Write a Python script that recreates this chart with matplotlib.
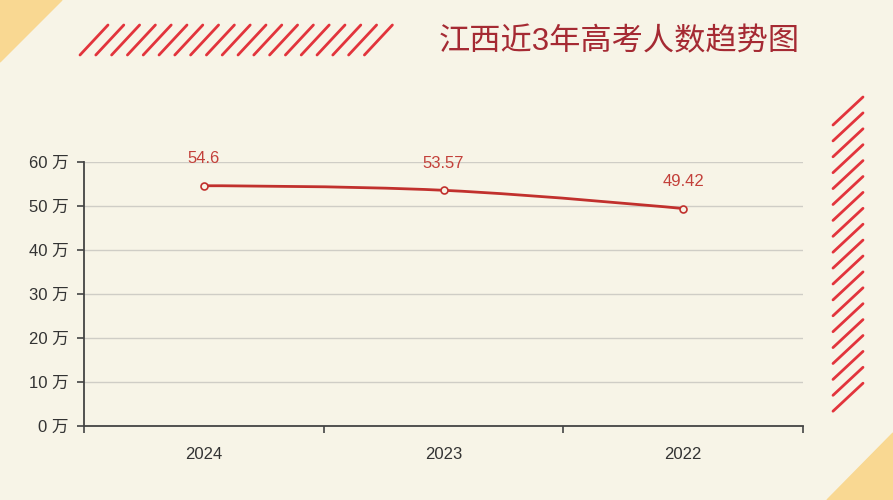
#!/usr/bin/env python3

import numpy as np
import matplotlib
matplotlib.use("Agg")
import matplotlib.pyplot as plt
from matplotlib.path import Path
from matplotlib.patches import PathPatch, Polygon
from matplotlib.lines import Line2D

plt.rcParams['font.family'] = ['Liberation Sans', 'Noto Sans CJK SC', 'DejaVu Sans']

# data
years = ['2024', '2023', '2022']
examinees = [54.6, 53.57, 49.42]   # 万人
y_ticks = [0, 10, 20, 30, 40, 50, 60]
y_labels = [f'{v} 万' for v in y_ticks]
title = '江西近3年高考人数趋势图'

BG = '#f7f4e7'
RED = '#e2343c'
LINE = '#c1302d'
LABEL = '#c3403a'
YELLOW = '#f9d892'
W, H = 893, 500


def px(x, y):
    """pixel (top-left origin) -> figure fraction"""
    return x / W, 1 - y / H


fig = plt.figure(figsize=(W / 100, H / 100), dpi=100, facecolor=BG)

# corner triangles
fig.patches.append(Polygon([px(0, 0), px(62, 0), px(0, 62)], closed=True,
                           transform=fig.transFigure, color=YELLOW, zorder=0))
fig.patches.append(Polygon([px(827, 500), px(893, 433), px(893, 500)], closed=True,
                           transform=fig.transFigure, color=YELLOW, zorder=0))

# hatch strips
for i in range(19):
    x0 = 80 + i * 15.8
    a, b = px(x0, 55), px(x0 + 28, 25)
    fig.lines.append(Line2D([a[0], b[0]], [a[1], b[1]], transform=fig.transFigure,
                            color=RED, lw=2.0, solid_capstyle='round'))
for i in range(19):
    y0 = 97 + i * 15.9
    a, b = px(833, y0 + 28), px(863, y0)
    fig.lines.append(Line2D([a[0], b[0]], [a[1], b[1]], transform=fig.transFigure,
                            color=RED, lw=2.0, solid_capstyle='round'))

fig.text(619 / W, 1 - 42 / H, title, ha='center', va='center',
         fontsize=22.5, color='#a52a33')

ax = fig.add_axes([84 / W, 74 / H, 719 / W, 264 / H])
ax.set_facecolor('none')

x = np.arange(len(years))
y = np.array(examinees)

# smooth curve through the points (bezier, echarts-like: end control = end point)
s = 0.4
pts = list(zip(x, y))
n = len(pts)
verts = [pts[0]]
codes = [Path.MOVETO]
for i in range(n - 1):
    p0, p1 = pts[i], pts[i + 1]
    if i > 0:
        pm = pts[i - 1]
        c1 = (p0[0] + s * (p1[0] - pm[0]) / 2, p0[1] + s * (p1[1] - pm[1]) / 2)
    else:
        c1 = p0
    if i + 2 < n:
        pn = pts[i + 2]
        c2 = (p1[0] - s * (pn[0] - p0[0]) / 2, p1[1] - s * (pn[1] - p0[1]) / 2)
    else:
        c2 = p1
    verts += [c1, c2, p1]
    codes += [Path.CURVE4] * 3
ax.add_patch(PathPatch(Path(verts, codes), fill=False, edgecolor=LINE, lw=2, zorder=3))

ax.plot(x, y, linestyle='none', marker='o', markersize=5, markerfacecolor=BG,
        markeredgecolor=LINE, markeredgewidth=1.2, zorder=4)
for xi, yi in zip(x, y):
    ax.annotate(f'{yi:g}', (xi, yi), xytext=(0, 14), textcoords='offset points',
                ha='center', va='bottom', fontsize=12, color=LABEL)

ax.set_xlim(-0.5, len(years) - 0.5)
ax.set_ylim(0, 60)
ax.set_yticks(y_ticks)
ax.set_yticklabels(y_labels)
ax.set_xticks(np.arange(len(years) + 1) - 0.5)
ax.set_xticklabels([])
ax.set_xticks(x, minor=True)
ax.set_xticklabels(years, minor=True)
ax.tick_params(axis='x', which='minor', length=0, pad=15, labelsize=12, labelcolor='#333333')
ax.tick_params(axis='x', which='major', length=5, width=1.2, color='#444444')
ax.tick_params(axis='y', length=5, width=1.2, color='#444444', pad=6,
               labelsize=12, labelcolor='#333333')

ax.grid(axis='y', color='#cfcdc6', lw=1)
ax.set_axisbelow(True)
for side in ('top', 'right'):
    ax.spines[side].set_visible(False)
for side in ('left', 'bottom'):
    ax.spines[side].set_color('#444444')
    ax.spines[side].set_linewidth(1.3)

fig.savefig('out.png', dpi=100, facecolor=BG)
